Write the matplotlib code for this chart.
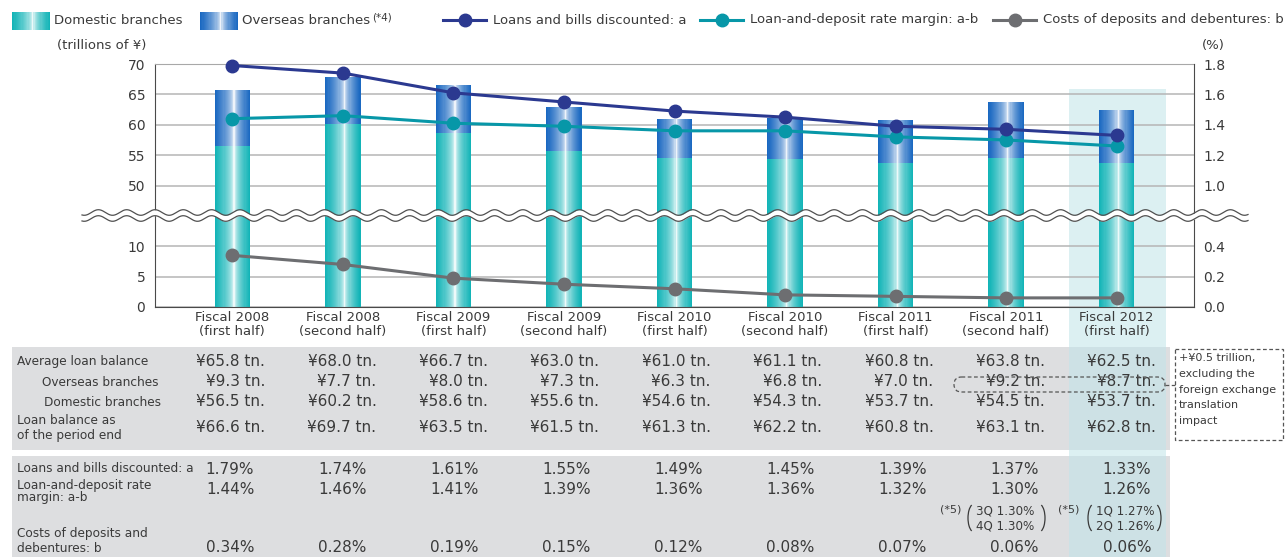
import numpy as np
import matplotlib.pyplot as plt
from matplotlib.patches import Rectangle, FancyBboxPatch, Arc
from matplotlib.colors import to_rgb

plt.rcParams['font.family'] = ['DejaVu Sans']

# ---- data -------------------------------------------------------------
periods = ['Fiscal 2008\n(first half)', 'Fiscal 2008\n(second half)',
           'Fiscal 2009\n(first half)', 'Fiscal 2009\n(second half)',
           'Fiscal 2010\n(first half)', 'Fiscal 2010\n(second half)',
           'Fiscal 2011\n(first half)', 'Fiscal 2011\n(second half)',
           'Fiscal 2012\n(first half)']
avg_balance = [65.8, 68.0, 66.7, 63.0, 61.0, 61.1, 60.8, 63.8, 62.5]
overseas = [9.3, 7.7, 8.0, 7.3, 6.3, 6.8, 7.0, 9.2, 8.7]
domestic = [56.5, 60.2, 58.6, 55.6, 54.6, 54.3, 53.7, 54.5, 53.7]
period_end = [66.6, 69.7, 63.5, 61.5, 61.3, 62.2, 60.8, 63.1, 62.8]
loans_rate = [1.79, 1.74, 1.61, 1.55, 1.49, 1.45, 1.39, 1.37, 1.33]
margin = [1.44, 1.46, 1.41, 1.39, 1.36, 1.36, 1.32, 1.30, 1.26]
cost = [0.34, 0.28, 0.19, 0.15, 0.12, 0.08, 0.07, 0.06, 0.06]
quarter_notes = {7: ('3Q 1.30%', '4Q 1.30%'), 8: ('1Q 1.27%', '2Q 1.26%')}

left_ticks = [0, 5, 10, 50, 55, 60, 65, 70]
right_ticks = [0.0, 0.2, 0.4, 1.0, 1.2, 1.4, 1.6, 1.8]

NAVY = '#2b3990'
TEAL = '#0797a8'
GREY = '#6d6e71'
CYAN = '#0fb3b6'
BLUE = '#1766c0'
TXT = '#3a3a3a'


# broken axes: 10..50 and 0.4..1.0 squeezed into the wave gap
def fwd_left(v):
    v = np.asarray(v, float)
    return np.where(v <= 10, v, np.where(v < 50, 10 + (v - 10) / 4, v - 30))


def inv_left(d):
    d = np.asarray(d, float)
    return np.where(d <= 10, d, np.where(d < 20, 10 + (d - 10) * 4, d + 30))


def fwd_right(p):
    p = np.asarray(p, float)
    return np.where(p <= 0.4, p * 25, np.where(p < 1.0, 10 + (p - 0.4) / 0.06, 20 + (p - 1) * 25))


def inv_right(d):
    d = np.asarray(d, float)
    return np.where(d <= 10, d / 25, np.where(d < 20, 0.4 + (d - 10) * 0.06, 1 + (d - 20) / 25))


def gradient_bars(axis, xc, bottom, top, width, color, n=32, zorder=2):
    edge = np.array(to_rgb(color))
    t = (np.arange(n) + 0.5) / n
    peak = 0.55
    m = np.where(t < peak, (peak - t) / peak, (t - peak) / (1 - peak))
    m = np.clip(m, 0, 1) ** 0.5
    cols = 1 - (1 - edge)[None, :] * m[:, None]
    for xi, b, tp in zip(xc, bottom, top):
        xs = xi - width / 2 + t * width
        axis.bar(xs, tp - b, bottom=b, width=width / n * 1.1, color=cols,
                 linewidth=0, zorder=zorder)


W, H = 1287, 557
fig = plt.figure(figsize=(W / 100, H / 100), dpi=100)


def frac(x0, y0, x1, y1):
    return [x0 / W, 1 - y1 / H, (x1 - x0) / W, (y1 - y0) / H]


bg = fig.add_axes([0, 0, 1, 1])
bg.set_xlim(0, W)
bg.set_ylim(H, 0)
bg.axis('off')
bg.set_zorder(0)

ax = fig.add_axes(frac(155, 64, 1194, 307))
ax.set_zorder(1)
ax.patch.set_visible(False)
ax2 = ax.twinx()
ax2.set_zorder(2)

x = np.arange(len(periods))
ax.set_xlim(-0.7, 8.7)
ax.set_yscale('function', functions=(fwd_left, inv_left))
ax.set_ylim(0, 70)
ax2.set_yscale('function', functions=(fwd_right, inv_right))
ax2.set_ylim(0, 1.8)


def cx(i):
    return ax.transData.transform((i, 0))[0]


# bars
dom = np.array(domestic)
tot = dom + np.array(overseas)
gradient_bars(ax, x, np.zeros(len(x)), dom, 0.32, CYAN)
gradient_bars(ax, x, dom, tot, 0.32, BLUE)

# lines
for vals, col in [(cost, GREY), (margin, TEAL), (loans_rate, NAVY)]:
    ax2.plot(x, vals, color=col, lw=2.2, marker='o', ms=9, clip_on=False, zorder=4)

# axes styling
ax.set_yticks(left_ticks, [str(t) for t in left_ticks])
ax2.set_yticks(right_ticks, [f'{t:.1f}' for t in right_ticks])
ax.set_xticks(x, periods)
ax.set_axisbelow(True)
ax.yaxis.grid(True, color='#b5b5b5', lw=1.1)
ax.tick_params(axis='y', length=0, pad=7, labelsize=10, labelcolor=TXT)
ax2.tick_params(axis='y', length=0, pad=6.5, labelsize=10, labelcolor=TXT)
ax.tick_params(axis='x', length=0, pad=3, labelsize=9.5, labelcolor=TXT)
for lab in ax.get_xticklabels():
    lab.set_linespacing(1.1)
for s in ['left', 'bottom']:
    ax.spines[s].set_color('#4a4a4a')
ax.spines['top'].set_color('#a8a8a8')
ax.spines['right'].set_visible(False)
for s in ['left', 'bottom', 'top']:
    ax2.spines[s].set_visible(False)
ax2.spines['right'].set_color('#4a4a4a')

# highlight column + table backgrounds
gray = '#dddee0'
hl = '#dcf0f2'
hl_tab = '#cde1e5'
hx0, hx1 = cx(8) - 48, cx(8) + 49
bg.add_patch(Rectangle((hx0, 89), hx1 - hx0, H - 89, color=hl, lw=0))
for y0, y1 in [(347, 450), (456, 558)]:
    bg.add_patch(Rectangle((12, y0), hx0 - 12, y1 - y0, color=gray, lw=0))
    bg.add_patch(Rectangle((hx1, y0), 1170 - hx1, y1 - y0, color=gray, lw=0))
    bg.add_patch(Rectangle((hx0, y0), hx1 - hx0, y1 - y0, color=hl_tab, lw=0))

# legend
gradient_bars(bg, [31], [12], [30], 38, CYAN, zorder=3)
gradient_bars(bg, [219], [12], [30], 38, BLUE, zorder=3)
bg.text(54, 20, 'Domestic branches', fontsize=9.5, color=TXT, va='center')
ov_txt = bg.text(242, 20, 'Overseas branches', fontsize=9.5, color=TXT, va='center')
ov_end = ov_txt.get_window_extent(renderer=fig.canvas.get_renderer()).x1
bg.text(ov_end + 2, 17, '(*4)', fontsize=7.5, color=TXT, va='center')
for x0, col, label in [(443, NAVY, 'Loans and bills discounted: a'),
                       (700, TEAL, 'Loan-and-deposit rate margin: a-b'),
                       (993, GREY, 'Costs of deposits and debentures: b')]:
    bg.plot([x0, x0 + 43], [20, 20], color=col, lw=2.2)
    bg.plot([x0 + 21.5], [20], 'o', color=col, ms=9)
    bg.text(x0 + 50, 20, label, fontsize=9.5, color=TXT, va='center')

bg.text(57, 46, '(trillions of ¥)', fontsize=9.5, color=TXT, va='center')
bg.text(1202, 46, '(%)', fontsize=9.5, color=TXT, va='center')

# table rows
lab_fs = 8.7
val_fs = 11
for y, txt, xl in [(361, 'Average loan balance', 17), (382, 'Overseas branches', 42),
                   (402, 'Domestic branches', 44), (420, 'Loan balance as', 17),
                   (435, 'of the period end', 17), (469, 'Loans and bills discounted: a', 17),
                   (486, 'Loan-and-deposit rate', 17), (497, 'margin: a-b', 17),
                   (533, 'Costs of deposits and', 17), (548, 'debentures: b', 17)]:
    bg.text(xl, y, txt, fontsize=lab_fs, color=TXT, va='center')

for i in range(len(periods)):
    xr = 265 + 111.4 * i
    xc = 230 + 112.1 * i
    for y, v in [(361, avg_balance[i]), (382, overseas[i]), (402, domestic[i]),
                 (428, period_end[i])]:
        bg.text(xr, y, f'¥{v:.1f} tn.', fontsize=val_fs, color=TXT, va='center', ha='right')
    for y, v in [(469, loans_rate[i]), (489, margin[i]), (547, cost[i])]:
        bg.text(xc, y, f'{v:.2f}%', fontsize=val_fs, color=TXT, va='center', ha='center')

# quarterly margin notes (*5)
for i, (star_x, lp, tx, rp) in [(7, (940, 968, 976, 1045)), (8, (1058, 1088, 1096, 1161))]:
    q1, q2 = quarter_notes[i]
    bg.text(star_x, 509, '(*5)', fontsize=8, color=TXT, va='center')
    bg.text(tx, 511, q1, fontsize=8.6, color=TXT, va='center')
    bg.text(tx, 526, q2, fontsize=8.6, color=TXT, va='center')
    bg.add_patch(Arc((lp + 6, 518), 12, 28, theta1=100, theta2=260, color=TXT, lw=0.9))
    bg.add_patch(Arc((rp - 6, 518), 12, 28, theta1=-80, theta2=80, color=TXT, lw=0.9))

# dashed call-out
bg.add_patch(FancyBboxPatch((954, 377), 211, 15, boxstyle='round,pad=0,rounding_size=7.5',
                            fill=False, ec='#555555', lw=0.9, ls=(0, (3, 2)), zorder=4))
bg.plot([1165, 1175], [385, 385], color='#555555', lw=0.9, ls=(0, (3, 2)))
bg.add_patch(Rectangle((1175, 349), 108, 91, fill=False, ec='#555555', lw=0.9,
                       ls=(0, (3, 2)), zorder=4))
for k, line in enumerate(['+¥0.5 trillion,', 'excluding the', 'foreign exchange',
                          'translation', 'impact']):
    bg.text(1179, 358 + 15.8 * k, line, fontsize=8, color=TXT, va='center')

# wavy break marks
top = fig.add_axes([0, 0, 1, 1])
top.set_xlim(0, W)
top.set_ylim(H, 0)
top.axis('off')
top.set_zorder(3)
xw = np.linspace(82, 1248, 1500)
phase = 2 * np.pi * (xw - 155) / 28.3
y_up = 212.5 - 2.8 * np.cos(phase)
y_lo = 218.5 - 2.8 * np.cos(phase)
top.fill_between(xw, y_up, y_lo, color='white', lw=0)
top.plot(xw, y_up, color='#505050', lw=0.9)
top.plot(xw, y_lo, color='#505050', lw=0.9)

fig.savefig('out.png', dpi=100)
